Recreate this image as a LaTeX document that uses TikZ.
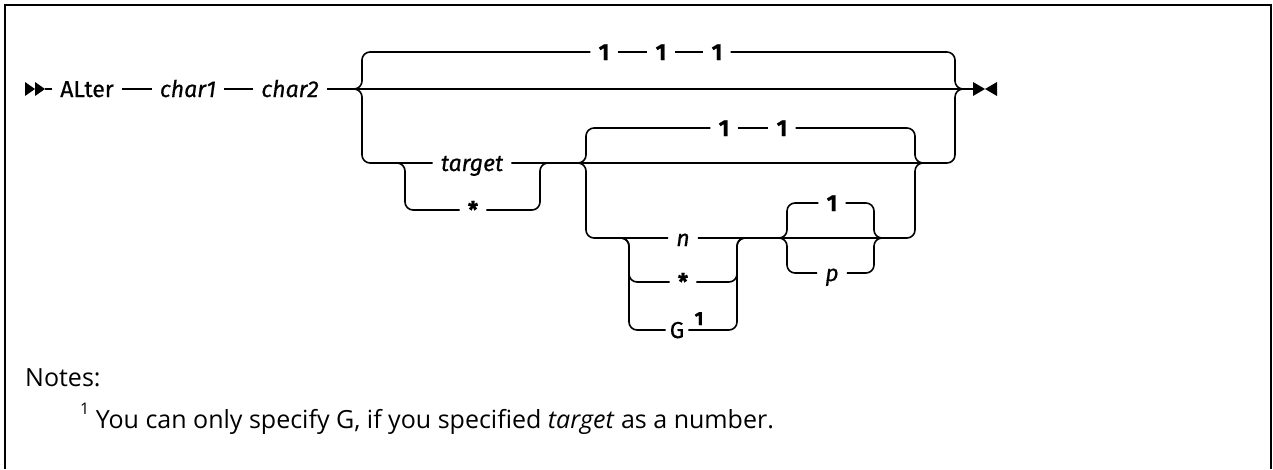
\documentclass[tikz,border=0pt]{standalone}
\usepackage{fontspec}
\setmainfont{Open Sans}
\newfontfamily\diagfam{Fira Sans}[FakeBold=0.6]
\usetikzlibrary{calc}
\def\railfont{\diagfam\fontsize{23}{27}\selectfont}
\def\notefont{\fontsize{25}{29}\selectfont}
\def\supone{\raisebox{0.55em}{\fontsize{16}{16}\selectfont 1}}

\begin{document}
\begin{tikzpicture}[x=1pt, y=-1pt,
		rail/.style={line width=1.6pt, rounded corners=8pt},
		word/.style={inner xsep=8pt, inner ysep=0pt, text height=16pt, text depth=0pt, font=\railfont},
		var/.style={word, font=\railfont\itshape},
		dflt/.style={word, font=\railfont\bfseries}]
			%%%%% START %%%%%
			
			\useasboundingbox (0,0) rectangle (1273,469);
			\draw[line width=2pt] (5,469) -- (5,5) -- (1271,5) -- (1271,469);
			
			% main line
			\coordinate (start) at (25,89);
			\coordinate (stop) at (973,89);
			\node[word] (alter) at (87,89) {ALter};
			\node[var] (chara) at (188,89) {char1};
			\node[var] (charb) at (290,89) {char2};
			
			\fill (start) ++(0,-7) -- ++(10,7) -- ++(-10,7) -- cycle;
			\fill (start) ++(10,-7) -- ++(10,7) -- ++(-10,7) -- cycle;
			\draw[rail] ($(start)+(20,0)$) -- (alter.west);
			\draw[rail] (alter.east) -- (chara.west);
			\draw[rail] (chara.east) -- (charb.west);
			\draw[rail] (charb.east) -- (stop);
			\fill (stop) ++(0,-7) -- ++(12,7) -- ++(-12,7) -- cycle;
			\fill (stop) ++(24,-7) -- ++(-12,7) -- ++(12,7) -- cycle;
			
			% first fork
			\coordinate (fa) at (354,89);
			\coordinate (fb) at (362,89);
			\coordinate (ja) at (955,89);
			\coordinate (jb) at (963,89);
			\node[dflt] (top1) at (604,52) {1};
			\node[dflt] (top2) at (661,52) {1};
			\node[dflt] (top3) at (717,52) {1};
			\draw[rail] (fa) -- (fb) |- (top1.west);
			\draw[rail] (top1.east) -- (top2.west);
			\draw[rail] (top2.east) -- (top3.west);
			\draw[rail] (top3.east) -| (ja) -- (jb);
			
			\node[var] (target) at (472,163) {target};
			\draw[rail] (fa) -- (fb) |- (target.west);
			\draw[rail] (target.east) -| (ja) -- (jb);
			
			% target or *
			\coordinate (sa) at (397,163);
			\coordinate (sb) at (405,163);
			\coordinate (sc) at (540,163);
			\coordinate (sd) at (548,163);
			\node[dflt] (tstar) at (473,210) {*};
			\draw[rail] (sa) -- (sb) |- (tstar.west);
			\draw[rail] (tstar.east) -| (sc) -- (sd);
			
			% second fork
			\coordinate (ga) at (578,163);
			\coordinate (gb) at (586,163);
			\coordinate (ka) at (915,163);
			\coordinate (kb) at (923,163);
			\node[dflt] (mid1) at (724,128) {1};
			\node[dflt] (mid2) at (782,128) {1};
			\draw[rail] (ga) -- (gb) |- (mid1.west);
			\draw[rail] (mid1.east) -- (mid2.west);
			\draw[rail] (mid2.east) -| (ka) -- (kb);
			
			\node[var] (nval) at (683,238) {n};
			\node[dflt] (nstar) at (683,282) {*};
			\node[word, inner xsep=4pt] (gval) at (677,330) {G};
			\node[dflt, inner sep=0pt, font=\diagfam\bfseries\fontsize{19}{19}\selectfont] (gnote) at (699,317) {1};
			\draw[rail] (ga) -- (gb) |- (nval.west);
			\draw[rail] (nval.east) -| (ka) -- (kb);
			
			\coordinate (na) at (621,238);
			\coordinate (nb) at (629,238);
			\coordinate (nc) at (737,238);
			\coordinate (nd) at (745,238);
			\draw[rail] (na) -- (nb) |- (nstar.west);
			\draw[rail] (na) -- (nb) |- (gval.west);
			\draw[rail] (nstar.east) -| (nc) -- (nd);
			\draw[rail] (gval.east) -| (nc) -- (nd);
			
			% 1 or p
			\coordinate (pa) at (779,238);
			\coordinate (pb) at (787,238);
			\coordinate (pc) at (874,238);
			\coordinate (pd) at (882,238);
			\node[dflt] (pone) at (832,203) {1};
			\node[var] (pval) at (832,273) {p};
			\draw[rail] (pa) -- (pb) |- (pone.west);
			\draw[rail] (pa) -- (pb) |- (pval.west);
			\draw[rail] (pone.east) -| (pc) -- (pd);
			\draw[rail] (pval.east) -| (pc) -- (pd);
			
			% notes
			\node[anchor=base west, inner sep=0pt, font=\notefont] (notes) at (25,386) {Notes:};
			\node[anchor=base west, inner sep=0pt, font=\notefont] (note1) at (80,428) {\supone\ You can only specify G, if you specified \textit{target} as a number.};
			
			%%%%% END %%%%%
		\end{tikzpicture}
\end{document}
